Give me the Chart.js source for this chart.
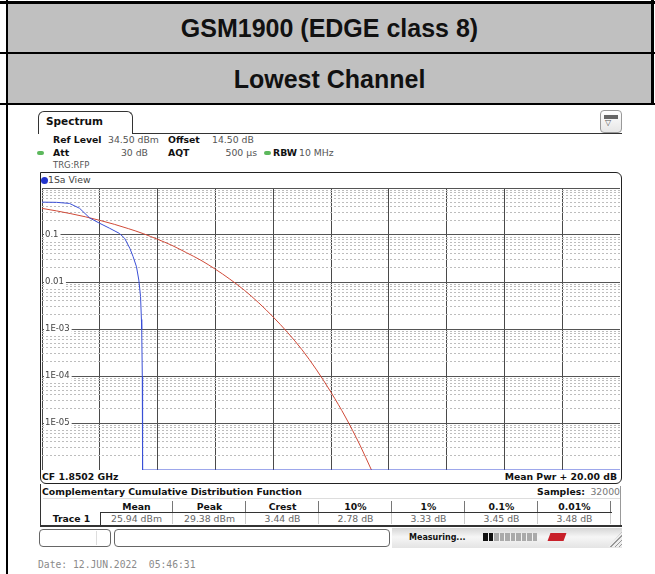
<!DOCTYPE html>
<html>
<head>
<meta charset="utf-8">
<script src="https://cdn.jsdelivr.net/npm/chart.js@4.4.0/dist/chart.umd.min.js"></script>
<style>
body { margin: 0; width: 655px; height: 574px; position: relative; overflow: hidden; background: #fff; font-family: "DejaVu Sans", sans-serif; }
div { position: absolute; white-space: nowrap; box-sizing: border-box; }
.blk { background: #000; }
.hdr { background: #c0c0c0; font-family: "Liberation Sans", Arial, sans-serif; font-weight: bold; font-size: 25px; color: #111; text-align: center; }
.t { font-size: 9.3px; line-height: 12px; color: #555; }
.b { font-weight: bold; color: #111; }
.gd { width: 7px; height: 4px; border-radius: 2px; background: #5cb85c; }
.ln { background: #333; }
</style>
</head>
<body>
<!-- table frame -->
<div class="blk" style="left:0;top:1px;width:655px;height:3px"></div>
<div class="hdr" style="left:8px;top:4px;width:643px;height:48px;line-height:48px">GSM1900 (EDGE class 8)</div>
<div class="blk" style="left:0;top:52px;width:655px;height:2px"></div>
<div class="hdr" style="left:8px;top:54px;width:643px;height:49px;line-height:50px">Lowest Channel</div>
<div class="blk" style="left:0;top:103px;width:655px;height:2px"></div>
<div class="blk" style="left:6px;top:0;width:2px;height:574px"></div>
<div class="blk" style="left:651px;top:0;width:3px;height:105px"></div>

<!-- instrument header -->
<div style="left:38px;top:111px;width:95px;height:23px;border:1px solid #333;border-bottom:none;border-radius:6px 6px 0 0"></div>
<div class="t b" style="left:46px;top:115px;font-size:10.5px">Spectrum</div>
<div class="ln" style="left:132px;top:133px;width:490px;height:1px"></div>
<div style="left:600px;top:110px;width:22px;height:23px;border:1px solid #999;border-radius:4px;background:linear-gradient(#fff,#e6e6e6)"></div>
<div style="left:604px;top:115px;width:14px;height:4px;background:#666"></div>
<div style="left:605px;top:118px;font-size:8px;line-height:9px;color:#555">▽</div>

<div class="t b" style="left:53px;top:134px">Ref Level</div>
<div class="t" style="left:108px;top:134px">34.50 dBm</div>
<div class="t b" style="left:168px;top:134px">Offset</div>
<div class="t" style="left:212px;top:134px">14.50 dB</div>
<div class="gd" style="left:37px;top:151px"></div>
<div class="t b" style="left:53px;top:147px">Att</div>
<div class="t" style="right:507px;top:147px">30 dB</div>
<div class="t b" style="left:168px;top:147px">AQT</div>
<div class="t" style="right:398px;top:147px">500 µs</div>
<div class="gd" style="left:264px;top:151px"></div>
<div class="t b" style="left:273px;top:147px">RBW</div>
<div class="t" style="left:299px;top:147px">10 MHz</div>
<div class="t" style="left:53px;top:159px;font-size:8.5px">TRG:RFP</div>

<!-- plot window -->
<div style="left:40px;top:172px;width:582px;height:312px;border:1px solid #222;border-radius:0 6px 6px 6px"></div>
<div style="left:41px;top:177px;width:7px;height:7px;border-radius:50%;background:#2233cc"></div>
<div class="t" style="left:48px;top:174px;color:#444">1Sa View</div>
<canvas id="ccdf" width="578" height="282" style="position:absolute;left:42px;top:188px"></canvas>
<div class="t b" style="left:42px;top:471px">CF 1.8502 GHz</div>
<div class="t b" style="right:38px;top:471px">Mean Pwr + 20.00 dB</div>

<!-- result table -->
<div class="t b" style="left:42px;top:486px">Complementary Cumulative Distribution Function</div>
<div class="t b" style="right:70px;top:486px">Samples:</div>
<div class="t" style="right:35px;top:486px;color:#777">32000</div>
<div style="left:40px;top:484px;width:1px;height:43px;background:#333"></div>
<div style="left:43px;top:498px;width:577px;height:1px;background:#ddd"></div>
<div style="left:620px;top:486px;width:1px;height:39px;background:#999"></div>
<div class="ln" style="left:100px;top:512px;width:512px;height:1px"></div>
<div class="ln" style="left:100px;top:512px;width:1px;height:13px"></div>
<div class="t b" style="left:43px;top:513px;width:57px;text-align:center">Trace 1</div>
<div id="tbl"></div>
<div style="left:40px;top:525px;width:582px;height:2px;background:#333"></div>

<!-- status bar -->
<div style="left:392px;top:528px;width:230px;height:20px;background:linear-gradient(#d6d6d6,#f6f6f6 45%,#e4e4e4)"></div>
<div style="left:39px;top:529px;width:72px;height:18px;border:1px solid #666;border-radius:4px;background:#fff"></div>
<div style="left:96px;top:531px;width:1px;height:14px;background:#ddd"></div>
<div style="left:114px;top:529px;width:276px;height:18px;border:1px solid #666;border-radius:4px;background:#fff"></div>
<div class="t b" style="left:409px;top:532px;font-size:8px">Measuring...</div>
<div id="prog"></div>
<div style="left:549px;top:533px;width:16px;height:8px;background:#c8202a;transform:skewX(-20deg)"></div>
<div style="left:608px;top:532px;width:14px;height:15px;clip-path:polygon(100% 0,100% 100%,0 100%);background:repeating-linear-gradient(135deg,#999 0 1px,#eee 1px 3px)"></div>

<div style="left:38px;top:558px;font-family:'DejaVu Sans Mono',monospace;font-size:9.7px;line-height:13px;color:#8a8a8a;white-space:pre">Date: 12.JUN.2022  05:46:31</div>

<script>
// Trace 1: measured CCDF (dB above mean power, probability)
const traceDb = [0, 0.5, 0.95, 1.3, 1.65, 2.0, 2.34, 2.68, 2.86, 3.04, 3.15, 3.27, 3.35, 3.41, 3.44, 3.45, 3.47, 3.48, 3.48, 20];
const traceProb = [0.50, 0.495, 0.47, 0.37, 0.23, 0.177, 0.139, 0.108, 0.085, 0.052, 0.035, 0.021, 0.011, 0.0049, 0.0016, 0.001, 0.0001, 0.00001, 0.000001, 0.000001];

// Gaussian reference curve
const gaussDb = [0, 0.5, 1, 1.5, 2, 2.5, 3, 3.5, 4, 4.5, 5, 5.5, 6, 6.5, 7, 7.5, 8, 8.5, 9, 9.5, 10, 10.5, 11, 11.4];
const gaussProb = [0.368, 0.326, 0.284, 0.244, 0.205, 0.169, 0.136, 0.107, 0.081, 0.060, 0.042, 0.029, 0.0187, 0.0115, 0.0067, 0.0036, 0.0018, 0.00084, 0.00036, 0.000135, 0.000045, 0.0000134, 0.0000034, 0.000001];

// Axis
const xMin = 0, xMax = 20, xStep = 2;
const yMin = 0.000001, yMax = 1;
const decadeValues = [0.1, 0.01, 0.001, 0.0001, 0.00001];
const decadeLabels = ['0.1', '0.01', '1E-03', '1E-04', '1E-05'];

// Result table
const colNames = ['Mean', 'Peak', 'Crest', '10%', '1%', '0.1%', '0.01%'];
const colValues = ['25.94 dBm', '29.38 dBm', '3.44 dB', '2.78 dB', '3.33 dB', '3.45 dB', '3.48 dB'];

function isDecade(v) {
    const e = Math.log10(v);
    return Math.abs(e - Math.round(e)) < 1e-6;
}
function isMinor(v) {
    const m = v / Math.pow(10, Math.floor(Math.log10(v) + 1e-9));
    return Math.abs(m - Math.round(m)) < 1e-6 && Math.round(m) > 1;
}
function decadeLabel(v) {
    const i = decadeValues.findIndex(d => Math.abs(d - v) / d < 1e-6);
    return i >= 0 ? decadeLabels[i] : '';
}

// table cells
const tbl = document.getElementById('tbl');
colNames.forEach((name, i) => {
    const left = 100 + i * 73;
    tbl.insertAdjacentHTML('beforeend',
        '<div class="t b" style="left:' + left + 'px;top:501px;width:73px;text-align:center">' + name + '</div>' +
        '<div class="t" style="left:' + left + 'px;top:513px;width:73px;text-align:center;color:#666">' + colValues[i] + '</div>' +
        '<div style="left:' + (left + 72) + 'px;top:501px;width:1px;height:11px;background:#777"></div>' +
        '<div style="left:' + (left + 72) + 'px;top:513px;width:1px;height:11px;background:#ccc"></div>');
});

// progress segments
const prog = document.getElementById('prog');
for (let i = 0; i < 10; i++) {
    prog.insertAdjacentHTML('beforeend',
        '<div style="left:' + (483 + i * 5.5) + 'px;top:533px;width:4.5px;height:8px;background:' + (i < 2 ? '#111' : '#aaa') + '"></div>');
}

const ctx = document.getElementById('ccdf').getContext('2d');
new Chart(ctx, {
    type: 'line',
    data: {
        datasets: [{
            label: 'Trace 1',
            data: traceDb.map((x, i) => ({ x: x, y: traceProb[i] })),
            borderColor: '#3a4fd6',
            borderWidth: 1,
            pointRadius: 0,
            tension: 0
        }, {
            label: 'Gauss',
            data: gaussDb.map((x, i) => ({ x: x, y: gaussProb[i] })),
            borderColor: '#d04a38',
            borderWidth: 1,
            pointRadius: 0,
            cubicInterpolationMode: 'monotone'
        }]
    },
    options: {
        responsive: false,
        animation: false,
        devicePixelRatio: 1,
        layout: { padding: 0, autoPadding: false },
        plugins: { legend: { display: false }, tooltip: { enabled: false } },
        scales: {
            x: {
                type: 'linear',
                min: xMin,
                max: xMax,
                ticks: { display: false, stepSize: xStep },
                grid: { color: '#4a4a4a', drawTicks: false },
                border: { display: false }
            },
            yMinor: {
                type: 'logarithmic',
                position: 'left',
                min: yMin,
                max: yMax,
                ticks: { display: false },
                grid: {
                    drawTicks: false,
                    color: c => (c.tick && isMinor(c.tick.value)) ? '#bdbdbd' : 'rgba(0,0,0,0)'
                },
                border: { display: false, dash: [2, 2] },
                afterFit: s => { s.width = 0; s.paddingTop = 0; s.paddingBottom = 0; }
            },
            y: {
                type: 'logarithmic',
                position: 'left',
                min: yMin,
                max: yMax,
                ticks: {
                    autoSkip: false,
                    mirror: true,
                    padding: 3,
                    color: '#444',
                    font: { family: 'DejaVu Sans', size: 8.5 },
                    callback: v => decadeLabel(v),
                    showLabelBackdrop: c => c.tick && decadeLabel(c.tick.value) !== '',
                    backdropColor: '#fff',
                    backdropPadding: { top: 0, bottom: 0, left: 1, right: 2 }
                },
                grid: {
                    drawTicks: false,
                    color: c => {
                        if (!c.tick) return 'rgba(0,0,0,0)';
                        const v = c.tick.value;
                        if (Math.abs(v - yMin) / yMin < 1e-6) return '#8a8ae6';
                        return isDecade(v) ? '#555' : 'rgba(0,0,0,0)';
                    }
                },
                border: { display: false },
                afterFit: s => { s.width = 0; s.paddingTop = 0; s.paddingBottom = 0; }
            }
        }
    }
});
</script>
</body>
</html>
